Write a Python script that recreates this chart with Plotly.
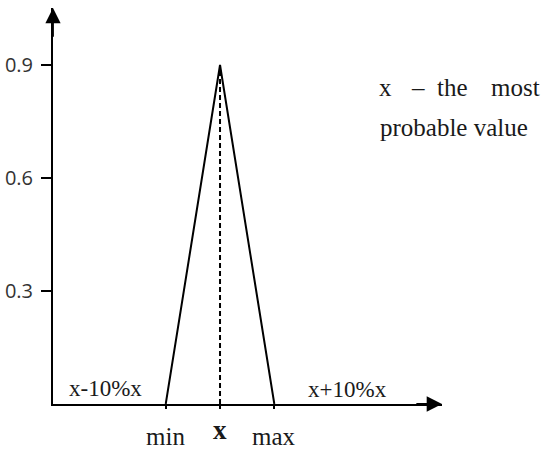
import plotly.graph_objects as go

# data (relative units: most probable value x = 1, min = x-10%x, max = x+10%x)
tri_x = [0.9, 1.0, 1.1]
tri_y = [0.0, 0.9, 0.0]
dash_x = [1.0, 1.0]
dash_y = [0.0, 0.9]
ytick_vals = [0.3, 0.6, 0.9]
ytick_text = ["0.3", "0.6", "0.9"]
xlabel_vals = [0.9, 1.0, 1.1]
xlabel_text = ["min", "<b>x</b>", "max"]
side_labels = ["x-10%x", "x+10%x"]
note_line1 = ["x", "–", "the", "most"]
note_line2 = "probable value"

W, H = 550, 450
L, R, T, B = 53, 442, 8, 404
xr = [0.6924, 1.4088]
yr = [0.0, 1.0513]

def px(p):
    return (p - L) / (R - L)

def py(p):
    return (B - p) / (B - T)

serif = "Liberation Serif"
txtc = "#1a1a1a"
fig = go.Figure()
fig.add_trace(go.Scatter(x=tri_x, y=tri_y, mode="lines",
                         line=dict(color="black", width=2), cliponaxis=False,
                         hoverinfo="skip"))
fig.add_trace(go.Scatter(x=dash_x, y=dash_y, mode="lines",
                         line=dict(color="black", width=2, dash="5px,3px"),
                         cliponaxis=False, hoverinfo="skip"))

ann = []
# axis arrows
ann.append(dict(x=xr[1], y=0, xref="x", yref="y", ax=xr[1] - 0.05, ay=0,
                axref="x", ayref="y", showarrow=True, arrowhead=2,
                arrowsize=1.7, arrowwidth=1.8, arrowcolor="black", text=""))
ann.append(dict(x=xr[0], y=yr[1], xref="x", yref="y", ax=xr[0], ay=yr[1] - 0.08,
                axref="x", ayref="y", showarrow=True, arrowhead=2,
                arrowsize=1.7, arrowwidth=1.8, arrowcolor="black", text=""))
# x labels
for v, t in zip(xlabel_vals, xlabel_text):
    big = t.startswith("<b>")
    ann.append(dict(x=v, y=py(430 if big else 436), xref="x", yref="paper",
                    text=t, showarrow=False, xanchor="center", yanchor="middle",
                    font=dict(family=serif, size=27 if big else 25, color=txtc)))
ann.append(dict(x=px(105), y=py(388), xref="paper", yref="paper", text=side_labels[0],
                showarrow=False, xanchor="center", yanchor="middle",
                font=dict(family=serif, size=23, color=txtc)))
ann.append(dict(x=px(347), y=py(389), xref="paper", yref="paper", text=side_labels[1],
                showarrow=False, xanchor="center", yanchor="middle",
                font=dict(family=serif, size=23, color=txtc)))
# note (justified first line)
for wd, cx in zip(note_line1, [385, 418, 452, 515]):
    ann.append(dict(x=px(cx), y=py(88), xref="paper", yref="paper", text=wd,
                    showarrow=False, xanchor="center", yanchor="middle",
                    font=dict(family=serif, size=25, color=txtc)))
ann.append(dict(x=px(378), y=py(127), xref="paper", yref="paper", text=note_line2,
                xanchor="left", yanchor="middle", showarrow=False,
                font=dict(family=serif, size=25, color=txtc)))

fig.update_layout(
    width=W, height=H, showlegend=False,
    margin=dict(l=L, r=W - R, t=T, b=H - B),
    paper_bgcolor="white", plot_bgcolor="white",
    annotations=ann,
    xaxis=dict(range=xr, showgrid=False, zeroline=False, showline=True,
               linecolor="black", linewidth=2, tickvals=xlabel_vals,
               ticktext=["", "", ""], ticks="outside", ticklen=3,
               tickcolor="black", tickwidth=1.5, fixedrange=True,
               automargin=False),
    yaxis=dict(range=yr, showgrid=False, zeroline=False, showline=True,
               linecolor="black", linewidth=2, tickvals=ytick_vals,
               ticktext=ytick_text, ticks="outside", ticklen=10,
               tickcolor="black", tickwidth=2, ticklabelstandoff=4,
               tickfont=dict(family="Open Sans", size=20, color="#333"),
               fixedrange=True, automargin=False),
)
fig.write_html("out.html", config={"displayModeBar": False},
               post_script="document.body.style.margin='0';")
